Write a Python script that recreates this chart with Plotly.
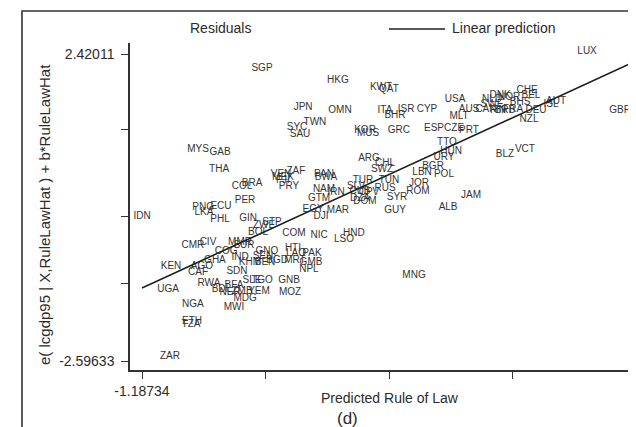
import plotly.graph_objects as go

# Country labels and their coordinates (Predicted Rule of Law, e(lcgdp95 | X) + b*RuleLawHat)
countries = ["LUX","SGP","HKG","KWT","QAT","JPN","OMN","TWN","SYC","SAU",
             "ITA","BHR","ISR","CYP","USA","KOR","MUS","GRC","ESP","CZE",
             "MLT","TTO","AUS","PRT","CHE","DNK","NOR","NLD","BEL","SWE",
             "CAN","FIN","BRB","FRA","BHS","DEU","ISL","AUT","NZL","GBR",
             "IRL","VCT","BLZ","JAM","ARG","CHL","SWZ","HUN","URY","BGR",
             "LBN","POL","TUR","TUN","JOR","RUS","ROM","SLV","CUB","CPV",
             "DZA","DOM","SYR","GUY","ALB","NAM","IRN","GTM","EGY","MAR",
             "DJI","PAN","BWA","ZAF","VEN","MEX","FJI","PRY","COM","NIC",
             "HND","LSO","HTI","LAO","PAK","MRT","GMB","NPL","GNB","MOZ",
             "MNG","BOL","ZWE","STP","GIN","PER","COL","BRA","THA","MYS",
             "GAB","IDN","PNG","LKA","ECU","PHL","CMR","CIV","MMR","SUR",
             "COG","GHA","KEN","AGO","CAF","IND","GNQ","KHM","SEN","BEN",
             "BGD","SDN","SLE","TGO","RWA","BFA","BDI","NER","ZMB","YEM",
             "MDG","MWI","UGA","NGA","ETH","TZA","ZAR"]

rule_law_hat = [1.621,-0.430,0.049,0.321,0.371,-0.171,0.062,-0.096,-0.209,-0.190,
                0.346,0.409,0.479,0.611,0.788,0.220,0.239,0.434,0.655,0.782,
                0.813,0.737,0.876,0.876,1.242,1.072,1.129,1.021,1.267,1.021,
                0.983,1.059,1.103,1.154,1.198,1.299,1.394,1.425,1.255,1.829,
                1.92975,1.229,1.103,0.889,0.245,0.346,0.327,0.763,0.718,0.649,
                0.580,0.718,0.207,0.371,0.561,0.346,0.554,0.163,0.188,0.245,
                0.188,0.220,0.422,0.409,0.744,-0.039,0.037,-0.070,-0.108,0.049,
                -0.058,-0.039,-0.026,-0.216,-0.310,-0.298,-0.298,-0.260,-0.228,-0.070,
                0.150,0.087,-0.235,-0.216,-0.115,-0.222,-0.121,-0.134,-0.260,-0.253,
                0.529,-0.455,-0.417,-0.367,-0.518,-0.537,-0.556,-0.493,-0.701,-0.834,
                -0.695,-1.187,-0.802,-0.796,-0.689,-0.695,-0.866,-0.771,-0.569,-0.544,
                -0.657,-0.727,-1.004,-0.809,-0.834,-0.569,-0.399,-0.506,-0.424,-0.411,
                -0.335,-0.588,-0.493,-0.430,-0.765,-0.607,-0.695,-0.632,-0.556,-0.449,
                -0.537,-0.607,-1.023,-0.866,-0.872,-0.878,-1.011]

residual_plus = [2.46,2.191,1.979,1.865,1.832,1.538,1.505,1.293,1.211,1.097,
                 1.505,1.423,1.521,1.521,1.669,1.178,1.129,1.162,1.195,1.195,
                 1.407,0.966,1.521,1.162,1.816,1.750,1.717,1.669,1.734,1.587,
                 1.521,1.505,1.505,1.521,1.620,1.505,1.587,1.636,1.342,1.505,
                 1.505,0.852,0.770,0.116,0.705,0.623,0.525,0.835,0.737,0.574,
                 0.476,0.459,0.361,0.345,0.312,0.230,0.181,0.263,0.181,0.165,
                 0.067,0.002,0.083,-0.129,-0.096,0.198,0.165,0.051,-0.113,-0.145,
                 -0.243,0.459,0.410,0.508,0.459,0.410,0.345,0.263,-0.505,-0.538,
                 -0.505,-0.603,-0.750,-0.832,-0.832,-0.962,-0.979,-1.109,-1.273,-1.469,
                 -1.207,-0.489,-0.390,-0.325,-0.260,0.034,0.263,0.296,0.525,0.852,
                 0.803,-0.227,-0.080,-0.162,-0.064,-0.276,-0.701,-0.652,-0.668,-0.717,
                 -0.815,-0.962,-1.060,-1.060,-1.158,-0.897,-0.815,-0.979,-0.881,-0.979,
                 -0.962,-1.126,-1.273,-1.273,-1.322,-1.355,-1.436,-1.485,-1.453,-1.453,
                 -1.567,-1.730,-1.436,-1.681,-1.943,-2.008,-2.52]

# Linear prediction endpoints
fit_x = [-1.18734, 1.92975]
fit_y = [-1.403, 2.306]

# Axis ticks
x_ticks = [-1.18734, -0.40807, 0.37121, 1.15048, 1.92975]
x_ticktext = ["-1.18734", "", "", "", "1.92975"]
y_ticks = [2.42011, 1.183, -0.232, -1.322, -2.59633]
y_ticktext = ["2.42011", "", "", "", "-2.59633"]

FONT = "Liberation Sans, Arial, sans-serif"
INK = "#2b2b2b"

fig = go.Figure()
fig.add_trace(go.Scatter(
    x=rule_law_hat, y=residual_plus, text=countries, mode="text",
    textposition="middle center", cliponaxis=False,
    textfont=dict(family=FONT, size=10, color="#333333"),
    name="Residuals", showlegend=False, hoverinfo="text"))
fig.add_trace(go.Scatter(
    x=fit_x, y=fit_y, mode="lines", line=dict(color="#1e1e1e", width=1.6),
    name="Linear prediction", showlegend=False))

def px_x(p):
    return (p - 122) / 514.0

def px_y(p):
    return (362 - p) / 327.0

annotations = [
    dict(text="Predicted Rule of Law", x=px_x(382), y=px_y(390), xref="paper", yref="paper",
         showarrow=False, font=dict(family=FONT, size=14, color=INK), xanchor="center", yanchor="middle"),
    dict(text="(d)", x=px_x(339), y=px_y(410), xref="paper", yref="paper",
         showarrow=False, font=dict(family=FONT, size=17, color=INK), xanchor="center", yanchor="middle"),
    dict(text="e( lcgdp95 | X,RuleLawHat ) + b*RuleLawHat", x=px_x(36), y=px_y(207),
         xref="paper", yref="paper", textangle=-90, showarrow=False,
         font=dict(family=FONT, size=15, color=INK), xanchor="center", yanchor="middle"),
    dict(text="Residuals", x=px_x(212), y=px_y(20), xref="paper", yref="paper",
         showarrow=False, font=dict(family=FONT, size=14, color=INK), xanchor="center", yanchor="middle"),
    dict(text="Linear prediction", x=px_x(442), y=px_y(20), xref="paper", yref="paper",
         showarrow=False, font=dict(family=FONT, size=14, color=INK), xanchor="left", yanchor="middle"),
]

shapes = [
    dict(type="line", xref="paper", yref="paper", x0=px_x(381), x1=px_x(437),
         y0=px_y(21), y1=px_y(21), line=dict(color="#1e1e1e", width=1.6)),
    dict(type="rect", xref="paper", yref="paper", x0=px_x(14), x1=px_x(642),
         y0=px_y(425), y1=px_y(3), line=dict(color="#333333", width=1.6)),
]

fig.update_layout(
    width=636, height=427,
    margin=dict(l=122, r=0, t=35, b=65),
    paper_bgcolor="white", plot_bgcolor="white",
    showlegend=False,
    annotations=annotations, shapes=shapes,
    font=dict(family=FONT, color=INK),
)
fig.update_xaxes(
    range=[-1.2631, 1.9802], tickvals=x_ticks, ticktext=x_ticktext,
    showline=True, linecolor="#333333", linewidth=1.5, mirror=False,
    ticks="outside", ticklen=7, tickwidth=1.2, tickcolor="#333333",
    showgrid=False, zeroline=False, automargin=False,
    tickfont=dict(family=FONT, size=14, color=INK))
fig.update_yaxes(
    range=[-2.7434, 2.5998], tickvals=y_ticks, ticktext=y_ticktext,
    showline=True, linecolor="#333333", linewidth=1.5, mirror=False,
    ticks="outside", ticklen=7, tickwidth=1.2, tickcolor="#333333",
    showgrid=False, zeroline=False, automargin=False, ticklabelstandoff=4,
    tickfont=dict(family=FONT, size=14, color=INK))

fig.write_html("out.html")
